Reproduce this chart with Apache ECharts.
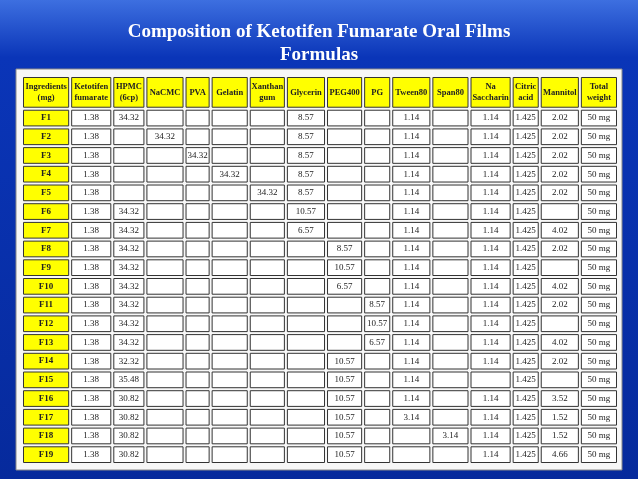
<!DOCTYPE html>
<html>
<head>
<meta charset="utf-8">
<script src="https://cdn.jsdelivr.net/npm/echarts@6/dist/echarts.min.js"></script>
<style>
  html, body { margin: 0; padding: 0; }
  #chart { width: 638px; height: 479px; }
</style>
</head>
<body>
<div id="chart"></div>
<script>
var headers = ["Ingredients\n(mg)", "Ketotifen\nfumarate", "HPMC\n(6cp)", "NaCMC", "PVA", "Gelatin", "Xanthan\ngum",
  "Glycerin", "PEG400", "PG", "Tween80", "Span80", "Na\nSaccharin", "Citric\nacid", "Mannitol", "Total\nweight"];
var formulas = ["F1", "F2", "F3", "F4", "F5", "F6", "F7", "F8", "F9", "F10",
  "F11", "F12", "F13", "F14", "F15", "F16", "F17", "F18", "F19"];
// one row per formula, columns Ketotifen .. Total weight ("" = empty)
var rows = [
  ["1.38", "34.32", "", "", "", "", "8.57", "", "", "1.14", "", "1.14", "1.425", "2.02", "50 mg"],
  ["1.38", "", "34.32", "", "", "", "8.57", "", "", "1.14", "", "1.14", "1.425", "2.02", "50 mg"],
  ["1.38", "", "", "34.32", "", "", "8.57", "", "", "1.14", "", "1.14", "1.425", "2.02", "50 mg"],
  ["1.38", "", "", "", "34.32", "", "8.57", "", "", "1.14", "", "1.14", "1.425", "2.02", "50 mg"],
  ["1.38", "", "", "", "", "34.32", "8.57", "", "", "1.14", "", "1.14", "1.425", "2.02", "50 mg"],
  ["1.38", "34.32", "", "", "", "", "10.57", "", "", "1.14", "", "1.14", "1.425", "", "50 mg"],
  ["1.38", "34.32", "", "", "", "", "6.57", "", "", "1.14", "", "1.14", "1.425", "4.02", "50 mg"],
  ["1.38", "34.32", "", "", "", "", "", "8.57", "", "1.14", "", "1.14", "1.425", "2.02", "50 mg"],
  ["1.38", "34.32", "", "", "", "", "", "10.57", "", "1.14", "", "1.14", "1.425", "", "50 mg"],
  ["1.38", "34.32", "", "", "", "", "", "6.57", "", "1.14", "", "1.14", "1.425", "4.02", "50 mg"],
  ["1.38", "34.32", "", "", "", "", "", "", "8.57", "1.14", "", "1.14", "1.425", "2.02", "50 mg"],
  ["1.38", "34.32", "", "", "", "", "", "", "10.57", "1.14", "", "1.14", "1.425", "", "50 mg"],
  ["1.38", "34.32", "", "", "", "", "", "", "6.57", "1.14", "", "1.14", "1.425", "4.02", "50 mg"],
  ["1.38", "32.32", "", "", "", "", "", "10.57", "", "1.14", "", "1.14", "1.425", "2.02", "50 mg"],
  ["1.38", "35.48", "", "", "", "", "", "10.57", "", "1.14", "", "", "1.425", "", "50 mg"],
  ["1.38", "30.82", "", "", "", "", "", "10.57", "", "1.14", "", "1.14", "1.425", "3.52", "50 mg"],
  ["1.38", "30.82", "", "", "", "", "", "10.57", "", "3.14", "", "1.14", "1.425", "1.52", "50 mg"],
  ["1.38", "30.82", "", "", "", "", "", "10.57", "", "", "3.14", "1.14", "1.425", "1.52", "50 mg"],
  ["1.38", "30.82", "", "", "", "", "", "10.57", "", "", "", "1.14", "1.425", "4.66", "50 mg"]
];

// relative column widths and header row height (layout only)
var colW = [48, 42, 33, 39, 26, 38, 37, 40, 37, 28, 40, 38, 42, 28, 40, 38];
var edges = [0];
colW.forEach(function (w) { edges.push(edges[edges.length - 1] + w); });
var headH = 1.75;

var cells = [];
headers.forEach(function (h, c) { cells.push([c, -1, h]); });
formulas.forEach(function (f, r) {
  cells.push([0, r, f]);
  rows[r].forEach(function (v, c) { cells.push([c + 1, r, v]); });
});

function rowTop(r) { return r < 0 ? 0 : headH + r; }
function rowBot(r) { return r < 0 ? headH : headH + r + 1; }

var chart = echarts.init(document.getElementById("chart"));
chart.setOption({
  backgroundColor: new echarts.graphic.LinearGradient(0, 0, 0, 1, [
    { offset: 0, color: "#3d6fe0" }, { offset: 0.12, color: "#0a35b8" }, { offset: 1, color: "#062a9c" }
  ]),
  title: {
    text: "Composition of Ketotifen Fumarate Oral Films\nFormulas",
    left: "center", top: 16,
    textStyle: { color: "#fff", fontFamily: "Liberation Serif", fontSize: 19, fontWeight: "bold", lineHeight: 23 }
  },
  graphic: [{ type: "rect", shape: { x: 16, y: 69, width: 606, height: 401 }, style: { fill: "#f7f7f7", stroke: "#888" }, z: -1 }],
  grid: { left: 22, right: 20, top: 76, bottom: 15 },
  xAxis: { type: "value", min: 0, max: edges[edges.length - 1], show: false },
  yAxis: { type: "value", min: 0, max: headH + formulas.length, inverse: true, show: false },
  series: [{
    type: "custom",
    data: cells,
    renderItem: function (params, api) {
      var c = api.value(0), r = api.value(1);
      var txt = cells[params.dataIndex][2];
      var p0 = api.coord([edges[c], rowTop(r)]);
      var p1 = api.coord([edges[c + 1], rowBot(r)]);
      var yellow = r < 0 || c === 0;
      return {
        type: "group",
        children: [{
          type: "rect",
          shape: { x: p0[0] + 1.5, y: p0[1] + 1.5, width: p1[0] - p0[0] - 3, height: p1[1] - p0[1] - 3 },
          style: { fill: yellow ? "#ffff00" : "#ffffff", stroke: "#333", lineWidth: 1 }
        }, {
          type: "text",
          style: {
            x: (p0[0] + p1[0]) / 2, y: (p0[1] + p1[1]) / 2, text: txt,
            align: "center", verticalAlign: "middle",
            fontFamily: "Liberation Serif", fontSize: r < 0 ? 8.5 : 9,
            fontWeight: yellow ? "bold" : "normal", fill: "#222", lineHeight: 11
          }
        }]
      };
    }
  }]
});
</script>
</body>
</html>
